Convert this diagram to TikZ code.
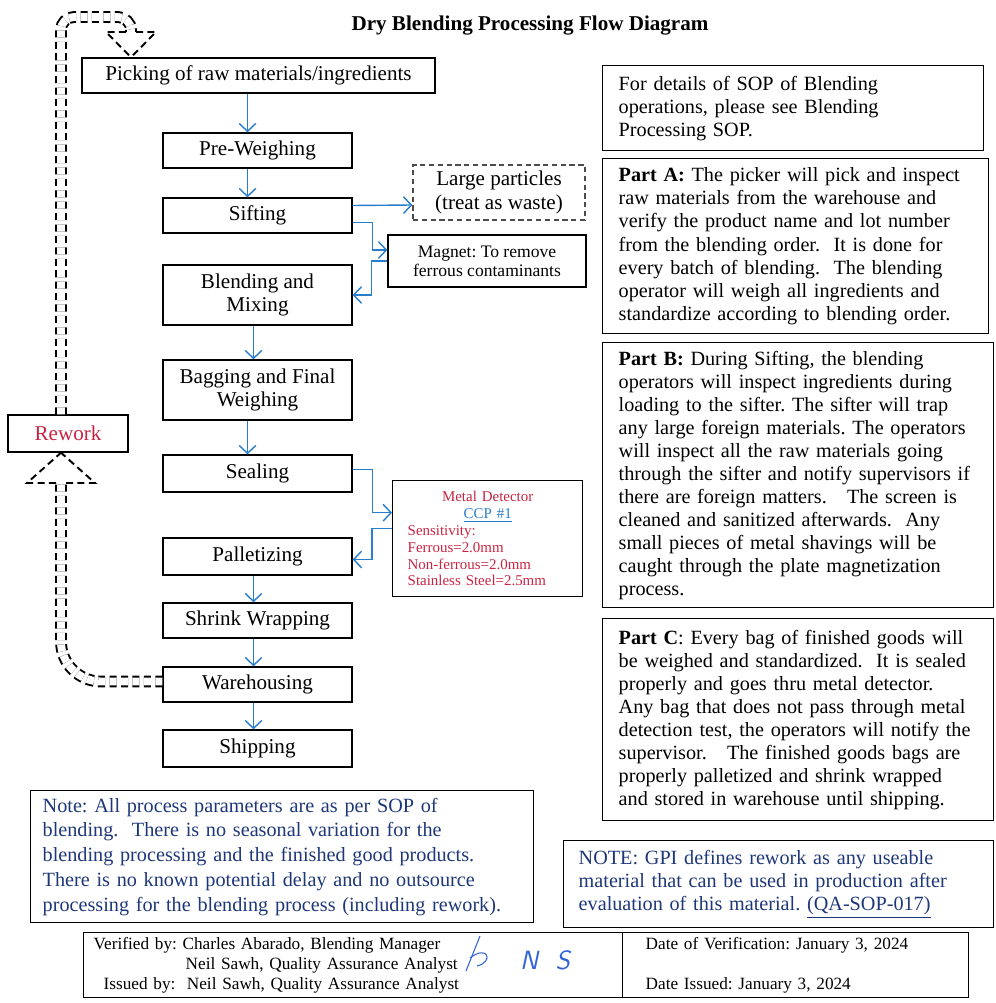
\documentclass[tikz,border=0pt]{standalone}
\usepackage{fontspec}
\setmainfont{Liberation Serif}
\usepackage{xcolor}
\usetikzlibrary{arrows.meta}
\definecolor{flowblue}{RGB}{40,125,205}
\definecolor{noteblue}{RGB}{30,55,120}
\definecolor{reworkred}{RGB}{200,35,65}
\definecolor{inkblue}{RGB}{50,100,215}
\frenchspacing

\begin{document}
\begin{tikzpicture}[x=0.02cm, y=-0.02cm,
  stepbox/.style={draw, line width=0.8pt, minimum width=3.78cm, minimum height=0.7cm, inner sep=1pt, align=center, font=\fontsize{12}{13.6}\selectfont},
  flow/.style={flowblue, line width=0.8pt, -{Straight Barb[length=4.5pt,width=9.5pt]}},
  sidebox/.style={draw, line width=0.8pt, anchor=north west, align=left, inner xsep=0.32cm, inner ysep=2pt, font=\fontsize{11.5}{13.1}\selectfont},
  loopline/.style={draw=black, dashed, dash pattern=on 4pt off 2.5pt, line width=1.1pt, double=white, double distance=4.5pt},
  loophead/.style={black, dash pattern=on 4pt off 2.5pt, line width=1.1pt}]
  \useasboundingbox (0,0) rectangle (996,1003);

  % title
  \node[font=\bfseries\fontsize{12}{14}\selectfont] (title) at (530,26) {Dry Blending Processing Flow Diagram};

  % process steps
  \node[stepbox, minimum width=7.06cm] (pick) at (258.5,75.5) {Picking of raw materials/ingredients};
  \node[stepbox] (prewgh) at (257.5,150.5) {Pre-Weighing};
  \node[stepbox] (sift) at (257.5,215.5) {Sifting};
  \node[stepbox, minimum height=1.2cm] (blend) at (257.5,295) {Blending and\\Mixing};
  \node[stepbox, minimum height=1.2cm] (bag) at (257.5,390) {Bagging and Final\\Weighing};
  \node[stepbox, minimum height=0.74cm] (seal) at (257.5,473.5) {Sealing};
  \node[stepbox, minimum height=0.74cm] (pallet) at (257.5,556.5) {Palletizing};
  \node[stepbox] (shrink) at (257.5,620.5) {Shrink Wrapping};
  \node[stepbox] (wareh) at (257.5,684.5) {Warehousing};
  \node[stepbox, minimum height=0.74cm] (ship) at (257.5,748.5) {Shipping};

  % side boxes
  \node[draw=black!70, dashed, dash pattern=on 3pt off 2pt, line width=0.8pt, minimum width=3.44cm, minimum height=1.1cm, align=center, font=\fontsize{12}{13.6}\selectfont] (waste) at (499,192.5) {Large particles\\(treat as waste)};
  \node[draw, line width=0.8pt, minimum width=3.96cm, minimum height=1.04cm, align=center, font=\fontsize{10}{10.8}\selectfont] (magnet) at (487,261) {Magnet: To remove\\ferrous contaminants};
  \node[draw, line width=0.8pt, anchor=north west, minimum width=3.8cm, minimum height=2.32cm, text width=3.2cm, inner xsep=0.3cm, align=left, text=reworkred, font=\fontsize{8.5}{9.6}\selectfont] (metal) at (392,480)
    {\makebox[\hsize]{Metal Detector}\\
     \makebox[\hsize]{\color{flowblue}\underline{CCP \#1}}\\
     Sensitivity:\\
     Ferrous=2.0mm\\
     Non-ferrous=2.0mm\\
     Stainless Steel=2.5mm};
  \node[draw, line width=0.8pt, minimum width=2.4cm, minimum height=0.74cm, text=reworkred, font=\fontsize{12}{13.6}\selectfont] (rework) at (68,433.5) {Rework};

  % flow arrows
  \draw[flow] ([xshift=-0.22cm]pick.south) -- ([xshift=-0.2cm]prewgh.north);
  \draw[flow] ([xshift=-0.2cm]prewgh.south) -- ([xshift=-0.2cm]sift.north);
  \draw[flow] ([xshift=-0.08cm]blend.south) -- ([xshift=-0.08cm]bag.north);
  \draw[flow] ([xshift=-0.2cm]bag.south) -- ([xshift=-0.2cm]seal.north);
  \foreach \a/\b in {pallet/shrink, shrink/wareh, wareh/ship}
    \draw[flow] ([xshift=-0.08cm]\a.south) -- ([xshift=-0.08cm]\b.north);
  \draw[flow] ([yshift=0.2cm]sift.east) -- ([yshift=-0.25cm]waste.west);
  \draw[flow] ([yshift=-0.14cm]sift.east) -- ++(20,0) |- ([yshift=0.22cm]magnet.west);
  \draw[flow] (magnet.west) -- ++(-16,0) |- (blend.east);
  \draw[flow] ([yshift=0.08cm]seal.east) -- ++(20,0) |- ([yshift=0.52cm]metal.west);
  \draw[flow] ([yshift=0.2cm]metal.west) -- ++(-20,0) |- ([yshift=-0.06cm]pallet.east);

  % rework loop
  \coordinate (lowbase) at (61,483);
  \coordinate (topbase) at (131,32);
  \coordinate (topcorner) at (131,17);
  \draw[loopline, rounded corners=0.8cm] ([yshift=0.06cm]wareh.west) -| (lowbase);
  \draw[loophead] ([xshift=-0.1cm]lowbase) -- ++(-29,0) -- (rework.south -| lowbase);
  \draw[loophead] ([xshift=0.1cm]lowbase) -- ++(29,0) -- (rework.south -| lowbase);
  \draw[loopline, rounded corners=0.26cm] (rework.north -| lowbase) |- (topcorner) -- (topbase);
  \draw[loophead] ([xshift=-0.1cm]topbase) -- ++(-20,0) -- (pick.north -| topbase);
  \draw[loophead] ([xshift=0.1cm]topbase) -- ++(20,0) -- (pick.north -| topbase);

  % right column text
  \node[sidebox, text width=6.98cm, minimum height=1.7cm] (sop) at (602,65)
    {For details of SOP of Blending\\operations, please see Blending\\Processing SOP.};
  \node[sidebox, text width=7.08cm, minimum height=3.5cm] (parta) at (602,158)
    {\textbf{Part A:} The picker will pick and inspect\\
     raw materials from the warehouse and\\
     verify the product name and lot number\\
     from the blending order.\ \ It is done for\\
     every batch of blending.\ \ The blending\\
     operator will weigh all ingredients and\\
     standardize according to blending order.};
  \node[sidebox, text width=7.18cm, minimum height=5.3cm] (partb) at (602,342)
    {\textbf{Part B:} During Sifting, the blending\\
     operators will inspect ingredients during\\
     loading to the sifter. The sifter will trap\\
     any large foreign materials. The operators\\
     will inspect all the raw materials going\\
     through the sifter and notify supervisors if\\
     there are foreign matters.\ \ \ The screen is\\
     cleaned and sanitized afterwards.\ \ Any\\
     small pieces of metal shavings will be\\
     caught through the plate magnetization\\
     process.};
  \node[sidebox, text width=7.18cm, minimum height=4.04cm] (partc) at (602,618)
    {\textbf{Part C}: Every bag of finished goods will\\
     be weighed and standardized.\ \ It is sealed\\
     properly and goes thru metal detector.\\
     Any bag that does not pass through metal\\
     detection test, the operators will notify the\\
     supervisor.\ \ \ The finished goods bags are\\
     properly palletized and shrink wrapped\\
     and stored in warehouse until shipping.};

  % notes
  \node[sidebox, text=noteblue, inner xsep=0.24cm, text width=9.58cm, minimum height=2.64cm, font=\fontsize{11.5}{14.1}\selectfont] (note) at (30,790)
    {Note: All process parameters are as per SOP of\\
     blending.\ \ There is no seasonal variation for the\\
     blending processing and the finished good products.\\
     There is no known potential delay and no outsource\\
     processing for the blending process (including rework).};
  \node[sidebox, text=noteblue, inner xsep=0.3cm, text width=8.0cm, minimum height=1.74cm, font=\fontsize{11.5}{13.3}\selectfont] (gpinote) at (563,840)
    {NOTE: GPI defines rework as any useable\\
     material that can be used in production after\\
     evaluation of this material. \underline{(QA-SOP-017)}};

  % sign-off table
  \node[sidebox, inner xsep=0.2cm, inner ysep=0pt, text width=10.38cm, minimum height=1.3cm, font=\fontsize{9.8}{11.3}\selectfont] (verif) at (83,932)
    {Verified by: Charles Abarado, Blending Manager\\
     \hspace*{1.84cm}Neil Sawh, Quality Assurance Analyst\\
     \hspace*{0.2cm}Issued by:\ \ Neil Sawh, Quality Assurance Analyst};
  \node[sidebox, inner xsep=0.46cm, inner ysep=0pt, text width=6.0cm, minimum height=1.3cm, font=\fontsize{9.8}{11.3}\selectfont] (dates) at (622,932)
    {Date of Verification: January 3, 2024\\[11pt]
     Date Issued: January 3, 2024};

  % signature
  \node[text=inkblue, font=\sffamily\itshape\fontsize{15}{15}\selectfont] (initials) at (545,960) {N\hspace{0.35cm}S};
  \draw[inkblue, line width=0.6pt] (466,971) -- (480,936);
  \draw[inkblue, line width=0.6pt] (470,958) .. controls (488,944) and (494,962) .. (477,966);
\end{tikzpicture}
\end{document}
